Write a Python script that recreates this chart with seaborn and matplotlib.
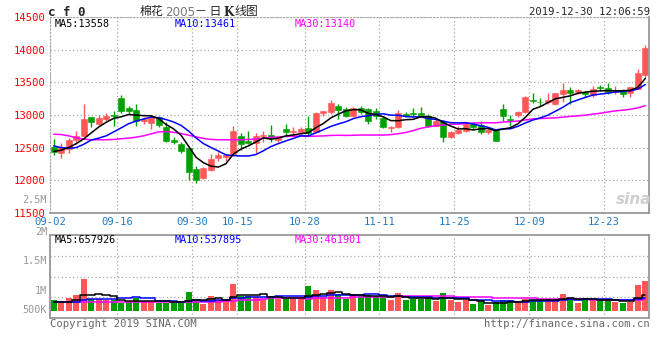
import numpy as np
import pandas as pd
import matplotlib
matplotlib.use("Agg")
import matplotlib.pyplot as plt
import seaborn as sns

# daily candles for 棉花2005, 2019-09-02 .. 2019-12-30
opens = [12510, 12420, 12485, 12620, 12680, 12970, 12860, 12945, 13005, 13265,
         13110, 13075, 12910, 12875, 12965, 12820, 12620, 12550, 12490, 12165,
         12030, 12150, 12335, 12355, 12390, 12680, 12600, 12570, 12675, 12695,
         12610, 12785, 12740, 12735, 12795, 12745, 13025, 13040, 13135, 13090,
         12980, 13115, 13090, 13065, 12950, 12795, 12810, 13015, 13030, 13030,
         12990, 12835, 12905, 12655, 12720, 12760, 12860, 12845, 12735, 12760,
         13090, 12940, 13005, 13040, 13230, 13205, 13195, 13170, 13320, 13385,
         13355, 13360, 13310, 13425, 13415, 13350, 13375, 13335, 13400, 13615]
highs = [12630, 12575, 12640, 12750, 13170, 12970, 13000, 13030, 13060, 13300,
         13145, 13170, 12965, 13000, 12990, 12885, 12655, 12580, 12525, 12215,
         12195, 12400, 12430, 12395, 12835, 12730, 12760, 12730, 12760, 12850,
         12660, 12860, 12810, 12810, 12990, 13040, 13065, 13235, 13170, 13130,
         13130, 13145, 13115, 13115, 12965, 12835, 13080, 13040, 13115, 13130,
         13015, 12940, 12930, 12760, 12835, 12900, 12900, 12915, 12785, 12785,
         13170, 13000, 13065, 13285, 13335, 13255, 13335, 13335, 13490, 13430,
         13400, 13370, 13450, 13460, 13485, 13450, 13400, 13435, 13710, 14075]
lows = [12390, 12340, 12420, 12550, 12670, 12820, 12840, 12910, 12835, 13030,
        13015, 12835, 12860, 12785, 12810, 12580, 12555, 12410, 12000, 11960,
        12025, 12140, 12290, 12290, 12375, 12470, 12555, 12420, 12580, 12590,
        12580, 12685, 12685, 12710, 12675, 12735, 12990, 13015, 12940, 12965,
        12965, 13015, 12860, 12940, 12795, 12735, 12795, 12965, 12965, 12990,
        12810, 12825, 12580, 12645, 12715, 12745, 12775, 12710, 12710, 12595,
        12915, 12835, 12965, 13025, 13185, 13145, 13170, 13155, 13205, 13170,
        13320, 13270, 13275, 13365, 13315, 13325, 13275, 13275, 13400, 13575]
closes = [12425, 12505, 12615, 12680, 12940, 12885, 12955, 12980, 12980, 13060,
          13060, 12910, 12940, 12965, 12850, 12605, 12580, 12450, 12125, 12000,
          12180, 12320, 12380, 12380, 12750, 12550, 12570, 12680, 12695, 12645,
          12640, 12735, 12755, 12785, 12725, 13025, 13055, 13185, 13075, 12980,
          13115, 13040, 12910, 12990, 12810, 12820, 13030, 12990, 13015, 13005,
          12835, 12915, 12655, 12745, 12775, 12860, 12820, 12735, 12770, 12605,
          12990, 12925, 13040, 13270, 13215, 13195, 13230, 13335, 13380, 13335,
          13385, 13320, 13400, 13415, 13350, 13375, 13325, 13425, 13650, 14025]
# volume in thousands of lots
volumes = [428, 320, 508, 628, 1268, 468, 468, 428, 452, 332,
           360, 508, 388, 388, 332, 332, 320, 360, 760, 468,
           268, 588, 452, 428, 1080, 588, 612, 560, 492, 588,
           492, 520, 468, 468, 988, 828, 560, 828, 668, 492,
           628, 588, 628, 588, 560, 452, 720, 452, 492, 492,
           532, 400, 720, 452, 360, 428, 268, 400, 228, 360,
           428, 428, 360, 492, 428, 428, 492, 428, 668, 532,
           320, 492, 428, 428, 452, 360, 320, 360, 1028, 1188]

# moving averages at the left edge use days before the window
ma5_head = [12440, 12460, 12500, 12560]
ma10_head = [12525, 12500, 12490, 12500, 12550, 12615, 12645, 12680, 12740]
ma30_head = [12705, 12700, 12680, 12650, 12630, 12620, 12620, 12620, 12625, 12635,
             12645, 12660, 12680, 12710, 12740, 12745, 12735, 12715, 12690, 12665,
             12640, 12625, 12620, 12620, 12620, 12620, 12625, 12630, 12645]
vma5_head = [360, 360, 370, 430]
vma10_head = [360, 360, 360, 370, 430, 480, 490, 495, 500]
vma30_head = [370] * 23 + [400, 420, 440, 450, 460, 470]

tick_idx = [0, 9, 19, 25, 34, 44, 54, 64, 74]
tick_labels = ["09-02", "09-16", "09-30", "10-15", "10-28", "11-11", "11-25", "12-09", "12-23"]
price_ticks = [11500, 12000, 12500, 13000, 13500, 14000, 14500]
vol_labels = ["2.5M", "2M", "1.5M", "1M", "500K"]


def with_head(values, head, n):
    rolled = pd.Series(values, dtype=float).rolling(n).mean().dropna().values
    return np.r_[head, rolled]


df = pd.DataFrame({"open": opens, "high": highs, "low": lows,
                   "close": closes, "vol": np.array(volumes) * 1000})
df["x"] = np.arange(len(df)) + 0.5
df["up"] = df["close"] >= df["open"]
df["ma5"] = with_head(closes, ma5_head, 5)
df["ma10"] = with_head(closes, ma10_head, 10)
df["ma30"] = with_head(closes, ma30_head, 30)
df["vma5"] = with_head(df["vol"], np.array(vma5_head) * 1000, 5)
df["vma10"] = with_head(df["vol"], np.array(vma10_head) * 1000, 10)
df["vma30"] = with_head(df["vol"], np.array(vma30_head) * 1000, 30)

sns.set_style("white")
plt.rcParams["font.family"] = ["DejaVu Sans Mono", "Noto Sans CJK SC"]

RED = "#FF5757"
GREEN = "#00A000"
GRID = "#A8A8A8"
BORDER = "#999999"
colors = np.where(df["up"], RED, GREEN)

W, H = 660, 360
fig = plt.figure(figsize=(6.6, 3.6), dpi=100)
ax = fig.add_axes([50 / W, 1 - 212.7 / H, 599 / W, 195.4 / H])
vax = fig.add_axes([50 / W, 1 - 318.3 / H, 599 / W, 83.6 / H])


def px(x, y):
    return x / W, 1 - y / H


# price panel
ax.vlines(df["x"], df["low"], df["high"], colors=colors, linewidth=1)
body = (df["close"] - df["open"]).where(lambda s: s.abs() > 8, 8)
ax.bar(df["x"], body, bottom=df["open"], width=0.8, color=colors,
       edgecolor=colors, linewidth=0.4)
sns.lineplot(data=df, x="x", y="ma30", ax=ax, color="#FF00FF", linewidth=1.1)
sns.lineplot(data=df, x="x", y="ma10", ax=ax, color="#0000FF", linewidth=1.1)
sns.lineplot(data=df, x="x", y="ma5", ax=ax, color="black", linewidth=1.1)

ax.set_xlim(0, len(df))
ax.set_ylim(11500, 14500)
ax.set_yticks(price_ticks)
ax.set_yticklabels([str(t) for t in price_ticks], color="#FF0000", fontsize=7.6)
ax.set_xticks(tick_idx)
ax.set_xticklabels(tick_labels, color="#1F7BC8", fontsize=7.6)
ax.tick_params(length=0, pad=3)
ax.tick_params(axis="x", pad=2.8)
ax.set_xlabel("")
ax.set_ylabel("")
ax.grid(True, linestyle=(0, (1, 2)), color=GRID, linewidth=0.9)
for side in ["top", "left"]:
    ax.spines[side].set_linestyle((0, (1, 2)))
    ax.spines[side].set_color(GRID)
for side in ["right", "bottom"]:
    ax.spines[side].set_color(BORDER)
    ax.spines[side].set_linewidth(1.3)

# volume panel
vax.bar(df["x"], df["vol"], width=0.8, color=colors, linewidth=0)
sns.lineplot(data=df, x="x", y="vma30", ax=vax, color="#FF00FF", linewidth=1.1,
             drawstyle="steps-mid")
sns.lineplot(data=df, x="x", y="vma10", ax=vax, color="#0000FF", linewidth=1.1,
             drawstyle="steps-mid")
sns.lineplot(data=df, x="x", y="vma5", ax=vax, color="black", linewidth=1.1,
             drawstyle="steps-mid")
vax.set_xlim(0, len(df))
vlim = (-290e3, 3050e3)
vax.set_ylim(*vlim)
vax.set_yticks(np.linspace(vlim[0], vlim[1], 5)[1:4])
vax.set_xticks(tick_idx)
vax.set_xticklabels([])
vax.set_yticklabels([])
vax.tick_params(length=0)
vax.set_xlabel("")
vax.set_ylabel("")
vax.grid(True, linestyle=(0, (1, 2)), color=GRID, linewidth=0.9)
for side in vax.spines:
    vax.spines[side].set_color(BORDER)
    vax.spines[side].set_linewidth(1.3)

# volume scale labels (as drawn by the source chart)
for lab, y in zip(vol_labels, [200, 231.5, 260.5, 290.5, 310]):
    fig.text(*px(47, y), lab, color="#999999", fontsize=7.3, ha="right", va="center")

# headers
fig.text(*px(48, 12), "c f 0", fontsize=9, fontweight="bold", va="center")
fig.text(*px(140, 12), "棉花", fontsize=8.6, family="Noto Sans CJK SC", va="center")
fig.text(*px(165, 12), "2005", fontsize=8.6, family="DejaVu Sans", color="#777777",
         va="center")
fig.text(*px(195, 12), "－ 日", fontsize=8.6, family="Noto Sans CJK SC", va="center")
fig.text(*px(223, 12), "K", fontsize=8.6, fontweight="bold", family="DejaVu Serif",
         va="center")
fig.text(*px(234, 12), "线图", fontsize=8.6, family="Noto Sans CJK SC", va="center")
fig.text(*px(650, 12), "2019-12-30 12:06:59", fontsize=7.6, ha="right", va="center")

# moving average readouts
for x, txt, c in [(55, "MA5:13558", "black"), (175, "MA10:13461", "#0000FF"),
                  (295, "MA30:13140", "#FF00FF")]:
    fig.text(*px(x, 24), txt, color=c, fontsize=7.3, va="center")
for x, txt, c in [(55, "MA5:657926", "black"), (175, "MA10:537895", "#0000FF"),
                  (295, "MA30:461901", "#FF00FF")]:
    fig.text(*px(x, 240), txt, color=c, fontsize=7.3, va="center")

# watermark and footer
fig.text(*px(634, 199), "sina", fontsize=11, fontweight="bold", style="italic",
         family="DejaVu Sans", color="#CFCFCF", ha="center", va="center")
fig.text(*px(50, 324), "Copyright 2019 SINA.COM", fontsize=7.6, color="#666666",
         va="center")
fig.text(*px(650, 324), "http://finance.sina.com.cn", fontsize=7.6, color="#666666",
         ha="right", va="center")

fig.savefig("out.png", dpi=100)
